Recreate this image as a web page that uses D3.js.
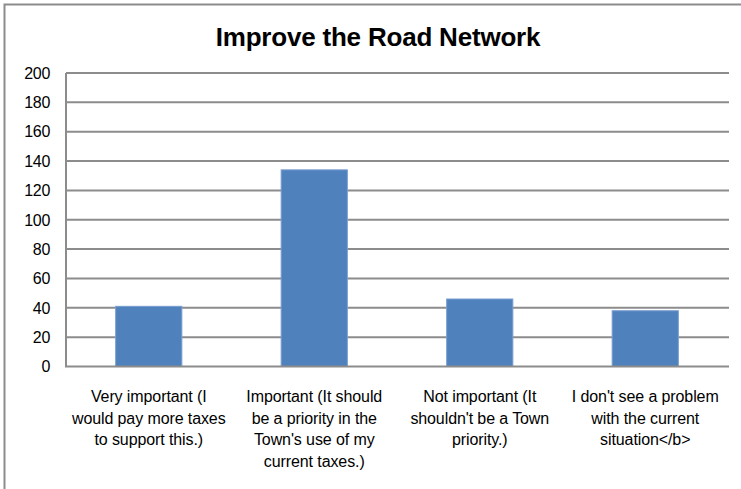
<!DOCTYPE html>
<html><head><meta charset="utf-8">
<script src="https://cdn.jsdelivr.net/npm/d3@7"></script>
<style>body{margin:0;background:#fff;}svg{display:block;font-family:"Liberation Sans",Arial,sans-serif;}</style>
</head><body>
<svg id="c" width="741" height="489"></svg>
<script>
const title = "Improve the Road Network";
const categories = [
  ["Very important  (I","would pay more taxes","to support this.)"],
  ["Important (It should","be a priority in the","Town's use of my","current taxes.)"],
  ["Not important  (It","shouldn't be a Town","priority.)"],
  ["I don't see a problem","with the current","situation</b>"]
];
const values = [41, 134, 46, 38];
const yTicks = [0,20,40,60,80,100,120,140,160,180,200];

(function(){
const svg = d3.select("#c");
svg.append("rect").attr("x",0).attr("y",0).attr("width",741).attr("height",489).attr("fill","#fff");
svg.append("rect").attr("x",4.5).attr("y",4.5).attr("width",800).attr("height",600)
  .attr("fill","none").attr("stroke","#8c8c8c").attr("stroke-width",2);

const pL = 66, pR = 728, pT = 73, pB = 366.5;
const x = d3.scaleBand().domain(d3.range(values.length)).range([pL,pR]).paddingInner(0.6).paddingOuter(0.3);
const y = d3.scaleLinear().domain([0,200]).range([pB,pT]);

svg.append("g").selectAll("line").data(yTicks.filter(d=>d>0)).join("line")
  .attr("x1",pL).attr("x2",pR+1).attr("y1",d=>y(d)).attr("y2",d=>y(d))
  .attr("stroke","#8c8c8c").attr("stroke-width",2);

svg.append("g").selectAll("rect").data(values).join("rect")
  .attr("x",(d,i)=>x(i)).attr("width",x.bandwidth())
  .attr("y",d=>y(d)).attr("height",d=>y(0)-y(d))
  .attr("fill","#4f81bd").attr("stroke","#7a9fd0").attr("stroke-width",1);

svg.append("line").attr("x1",pL).attr("x2",pL).attr("y1",pT).attr("y2",pB)
  .attr("stroke","#8c8c8c").attr("stroke-width",2);
svg.append("line").attr("x1",pL-1).attr("x2",pR+1).attr("y1",pB).attr("y2",pB)
  .attr("stroke","#8c8c8c").attr("stroke-width",2);

svg.append("g").selectAll("text").data(yTicks).join("text")
  .attr("x",50).attr("y",d=>y(d)).attr("dy","0.36em").attr("text-anchor","end")
  .attr("font-size",16).attr("letter-spacing","-0.3").attr("fill","#000").text(d=>d);

const xl = svg.append("g").selectAll("text").data(categories).join("text")
  .attr("text-anchor","middle").attr("font-size",16).attr("letter-spacing","-0.1").attr("fill","#000");
xl.each(function(lines,i){
  d3.select(this).selectAll("tspan").data(lines).join("tspan")
    .attr("x",x(i)+x.bandwidth()/2).attr("y",(d,j)=>402+j*21.7).text(d=>d);
});

svg.append("text").attr("x",378).attr("y",46).attr("text-anchor","middle")
  .attr("font-size",26).attr("font-weight","bold").attr("letter-spacing","-0.2").attr("fill","#000").text(title);
})();
</script>
</body></html>
